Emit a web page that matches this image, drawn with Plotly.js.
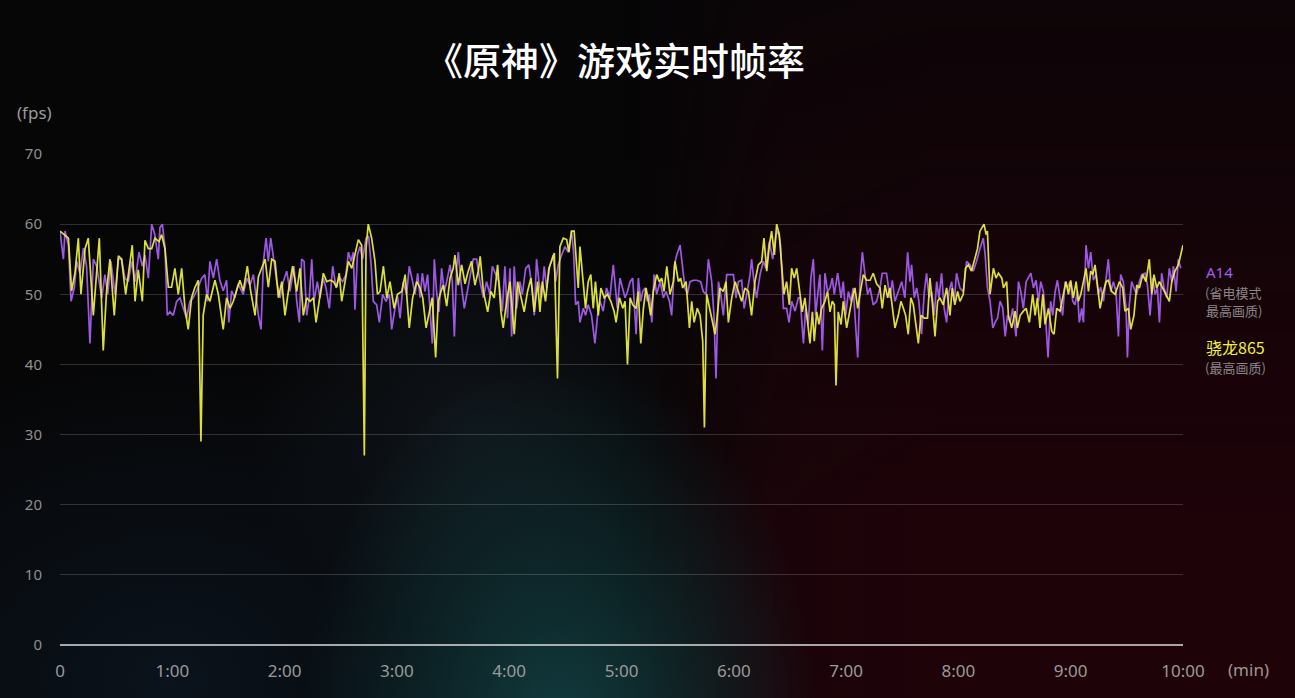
<!DOCTYPE html>
<html>
<head>
<meta charset="utf-8">
<script src="https://cdn.plot.ly/plotly-3.0.1.min.js"></script>
<style>
  html, body { margin: 0; padding: 0; width: 1295px; height: 698px; overflow: hidden; background: #060607; }
  .layer { position: absolute; left: 0; top: 0; width: 1295px; height: 698px; }
  #bgNavy { background: radial-gradient(ellipse 420px 330px at 170px 680px, rgba(11,20,30,0.9), rgba(11,20,30,0) 100%); }
  #bgRed {
    background: linear-gradient(to right, rgba(28,3,8,0) 48%, rgba(30,4,10,0.85) 60%, rgba(30,3,9,1) 72%, rgba(30,3,9,1) 100%);
    -webkit-mask-image: linear-gradient(to bottom, rgba(0,0,0,0.3) 0%, rgba(0,0,0,0.6) 35%, rgba(0,0,0,1) 75%);
    mask-image: linear-gradient(to bottom, rgba(0,0,0,0.3) 0%, rgba(0,0,0,0.6) 35%, rgba(0,0,0,1) 75%);
  }
  #bgTeal { background: radial-gradient(ellipse 260px 370px at 560px 730px, rgba(18,60,63,1), rgba(18,60,63,0) 100%); }
  #bgSlate { background: radial-gradient(ellipse 220px 210px at 470px 430px, rgba(24,34,44,0.5), rgba(24,34,44,0) 100%); }
  #chart { position: absolute; left: 0; top: 0; width: 1295px; height: 698px; }
</style>
</head>
<body>
<div class="layer" id="bgNavy"></div>
<div class="layer" id="bgRed"></div>
<div class="layer" id="bgSlate"></div>
<div class="layer" id="bgTeal"></div>
<div id="chart"></div>
<script>
// ---- data (time in seconds, frame rate in fps) ----
const xTickVals = [0, 60, 120, 180, 240, 300, 360, 420, 480, 540, 600];
const xTickText = ['0', '1:00', '2:00', '3:00', '4:00', '5:00', '6:00', '7:00', '8:00', '9:00', '10:00'];
const yTickVals = [0, 10, 20, 30, 40, 50, 60, 70];

// A14 (省电模式 最高画质) — [seconds, fps]
const a14 = [
[0,59],[1.8,55],[2.7,59],[4.5,57],[5.9,49],[7.7,51],[8.9,54.7],[10.7,53],[12.5,56.6],[14.2,54],[16,43],[17.8,55],[19.6,54],[22.3,49.5],[24,52.8],[25.5,50],[27.2,54.7],[29.4,50],[31.2,55],[32.9,55],[34.7,52.3],[36.5,51.8],[38.3,54.7],[40.1,51.8],[42.2,56],[44,54],[45.4,55.6],[47.2,52.3],[49,60],[50.7,58.5],[52.5,55],[53.4,59.5],[54.7,60],[56.1,56.6],[57.3,47],[58.7,47.5],[60.5,47],[62.3,49],[64.1,49.5],[65.8,48],[67.6,46.6],[69.4,49],[71.2,49.5],[73,50.5],[75.7,52.3],[77.4,52.8],[78.8,49],[80.1,54.7],[81.9,52.3],[83.7,55],[85.4,52],[87.2,50.5],[89,52],[90.2,46],[91.7,50.5],[93.4,49.5],[95.2,51.5],[97.9,50],
[99.8,52.3],[101.5,51.3],[103.3,52.8],[105.1,49],[106,47],[107.4,45],[108.7,54.7],[110.1,58],[111.3,54.7],[112.6,58],[114,55],[115.8,51.8],[117.6,49.5],[119.3,51.8],[121.1,53.3],[122.9,50.4],[125,54],[126.5,49],[127.9,46],[129.1,55],[130.4,54.7],[131.8,47],[133.2,49.5],[134.5,55],[135.7,49],[137.5,51.8],[138.9,49.5],[140.7,52.3],[142.1,50.9],[143.9,48],[145.7,54],[147.5,50.9],[149.2,52.5],[151,51.8],[152.8,52.8],[154.1,56],[155.5,54.7],[156.7,56],[157.6,47.8],[158.9,55.6],[160.3,56.8],[161.7,55],[163.5,58],[164.9,58.3],[166.2,54.3],[167.4,49],[169.2,48.5],[170.6,46],[172.4,50],[174.2,49],[176,50],[177.2,45],[179,48],[180.3,49.7],[181.7,46.6],[183.4,51.8],[185.2,50],[186.6,54],[188.4,51.8],[189.7,50],[191.1,53],[192.4,49.5],[193.6,53],[195,50.4],[196.4,52.8],
[197.7,47],[198.9,43],[200,55],[201.2,50.4],[202.5,47.5],[203.9,53.7],[205.3,50.4],[206.6,51.8],[208.4,54.2],[209.6,51.8],[210.7,44],[211.9,53.7],[212.8,56],[214.2,51.8],[216,48],[217.8,50.9],[219.6,53.3],[220.8,55],[222.6,55],[224.4,51.8],[226.2,49.5],[227.9,51.8],[229.7,50],[231,54],[232.7,52.8],[234.5,51.8],[236.3,47.6],[237.7,54],[239.1,46.6],[240.4,53.7],[241.3,44],[242.7,54],[244,48],[245.7,51.8],[247,50],[248.8,53.7],[250.5,54.2],[252.3,50.9],[253.4,47],[254.6,55],[255.9,51.8],[257.3,49.5],[258.7,54],[260,50.9],[261.8,54.2],[263.5,55.6],[264.8,51.8],[266.2,54.2],[268,55.6],[269.8,56.8],[271.5,56],[273.3,59],[274.4,56],[275.5,48.5],[276.9,49],[277.8,46],[279.6,48],[280.8,47],[282.2,48.5],[284,47],[285.8,43],[287.2,47],[288.5,49],[290.2,47.6],[292,50.9],[293.8,49.5],[295.6,54.2],
[296.6,51.8],[297.8,48],[299.2,52.3],[300.7,50.9],[301.9,49.5],[303.2,50.4],[304.6,51.8],[306,52.3],[307.8,44.3],[309,52.3],[310.3,49],[311.3,50.4],[312.6,50.9],[313.8,49],[314.9,50],[316.2,46],[317.4,52.8],[318.8,50],[320.6,51.8],[322.4,49.5],[323.8,50.4],[325.6,49],[326.8,47],[328.3,54.2],[329.5,55.6],[331.3,57],[332.7,53.7],[333.9,50.9],[335.2,50],[336.6,51.8],[338.4,52],[340.2,52],[342.3,51.8],[343.7,50.4],[345.2,50],[346.4,55],[348.2,51.8],[349.4,47],[350.5,38],[351.8,51.8],[353,50],[354.4,47],[356.2,52.8],[358,52.8],[359.8,52.8],[361.2,49.5],[362.4,51.8],[364.2,52],[365.5,48],[366.9,50],[368.7,52.8],[369.5,55],[370.8,51.8],[372.2,49.5],[374,52.8],[375.8,54.7],[377.2,53.7],[379,57.5],[380.8,55],[382.5,58.5],[383.8,59],[385,57],[386.5,48],[388.2,48],[389.5,46],[390.9,49],[392.7,47.6],[394.5,49.5],
[395.4,49.5],[397.2,43],[398.4,48],[399.8,45.7],[401.2,52.3],[402.5,55],[403.7,47],[405.2,50.9],[406,52.8],[407.3,42],[408.7,53],[410.1,50.4],[411.4,50.9],[412.6,52.3],[413.7,50],[415.5,53],[417.3,49.5],[418.5,51.8],[419.8,47],[421.2,50.4],[422.6,49],[423.8,50.9],[425.1,45.7],[426.2,41],[427.4,51.8],[428.7,56],[430.1,52.8],[431.5,50],[432.8,50.9],[434.5,48.5],[436.3,49],[438.1,50.9],[439.3,53],[441.6,53],[443.4,49.5],[444.7,52],[446.1,49],[447.9,50.4],[449.7,51.8],[451.4,49.5],[452.9,56],[454.1,51.8],[455,54.2],[456.4,49.5],[457.7,50.9],[458.9,49],[460.3,44.3],[461.8,50.4],[463,53],[464.3,49.5],[465.7,50.4],[467.1,47],[468.4,51.8],[469.6,49.5],[471,53],[472.4,48],[473.7,46],[475,50.4],[476.4,51.8],[477.8,49],[479,53],[480.8,50.9],[482.6,50.4],[484.4,54.7],[486.2,54.2],[487.9,53.3],[489.7,54.7],[491.5,56.5],[493.3,58],
[494.3,55.6],[495.5,51],[496.9,49],[498.4,45.2],[499.6,46],[500.9,46.6],[502.3,49],[503.7,48],[505,44],[506.2,47],[507.6,46],[509,48],[510.8,44],[512.1,51.8],[513.3,50.4],[514.7,48],[516.2,51.8],[517.4,52.3],[518.7,53],[520.1,50.9],[521.5,52],[522.8,49],[524,51.8],[525.4,50.4],[526.5,47],[527.9,41],[529.3,49],[530.4,47],[531.7,50.4],[532.9,52],[534.3,49.5],[535.7,47],[537,51.8],[538.2,50.9],[539.7,51.8],[541.1,49],[542.3,48.5],[543.6,50.4],[544.6,46],[545.9,48],[546.8,46],[548.2,57],[549.5,53.7],[550.7,56],[552.1,52],[553.5,52.8],[554.8,50],[556,51],[557.5,49],[558.9,51.8],[560.1,55],[561.4,50.4],[562.8,51.8],[564.2,50.4],[565.5,44],[566.7,52.8],[568.1,51.8],[569.6,48],[570.3,41],[571.3,48.5],[572.6,51.8],[573.8,50.9],[575.3,50],[576.7,51.8],[577.9,52.8],[579.7,53],[581,51.3],[582.4,47],[583.8,52.3],[585.1,50],[586.3,50.9],[587.4,46],[588.6,53],[589.9,50.9],[591.3,49.5],[592.7,53.7],[594,51.8],[594.9,54],[596.3,50.4],[597.5,55],[598.8,53.7]
];

// 骁龙865 (最高画质) — [seconds, fps]
const sd865 = [
[0,59],[4.5,58],[6.2,50.5],[8,53],[9.8,58],[11.2,50],[13.4,56.5],[15.1,58],[17.8,47],[19.6,54],[21,58],[23.1,42],[24.9,50.5],[26.7,55],[29,47],[31.2,55.5],[32.9,55],[35.1,50],[36.8,53.5],[38.6,57],[40.1,49],[41.8,53.5],[44,49],[45.4,57.7],[47.2,56.5],[49,56.5],[50.7,58],[52.9,57.5],[54.3,58.5],[56.1,56.5],[57.9,51],[59.6,51],[61.4,53.7],[63.2,50],[65,53.7],[66.8,48],[68.5,45],[70.3,49.5],[72.1,51],[73.9,52],[75.3,29],[76.5,47],[78.3,50],[80.1,49],[82.8,52],[84.6,50],[87.2,45],[89,49.5],[90.8,48],[92.6,49],[94.3,50.5],[96.1,52],[97.9,50.5],
[100.1,54],[101.9,50.4],[104.2,47],[106,52.5],[107.8,53.7],[109.6,55],[111.3,51],[113.1,55],[114.9,54.7],[116.7,49.5],[118.5,51.8],[120.2,47],[122,50.4],[124.3,54],[126.5,50.4],[128.2,53.7],[130,47],[131.8,49.5],[133.6,49],[135.4,49.5],[136.8,46],[138.6,49],[140.7,53],[142.5,51.8],[144.3,52],[146.1,51.8],[147.8,51],[149.2,53],[150.5,49],[152.3,51.8],[154.1,54.7],[155.9,53.7],[157.6,55.6],[159.4,57.8],[161.2,57],[162.6,27],[163.5,56.5],[164.7,60],[166.5,58],[168.3,54.7],[169.6,50],[171,50.4],[172.8,54],[174.6,49.5],[176.3,51.8],[178.5,48],[180.3,50],[182.6,50.4],[184.4,52.8],[186.6,45.2],[188.4,49.5],[190.6,51.8],[192.4,50.9],[193.8,49.5],[195.6,45.2],[197.4,47.5],
[198.9,49.5],[200.7,41],[202.1,49],[203.5,50.4],[204.8,51.3],[206.6,48.3],[208.4,52.3],[210.1,53.7],[211,55.6],[212.8,51.3],[214.6,54.2],[216.4,51.5],[218.1,53.3],[219.9,54.7],[221.7,51.3],[223.5,53.3],[224.5,55.4],[226.2,50.4],[228.5,47.5],[230.2,50.4],[232,49.5],[233.8,54.2],[235.6,47.5],[236.8,45.2],[238.6,49],[240.4,51.8],[242.7,44.3],[244.5,51.8],[246.3,49.5],[248,47.5],[249.8,50.4],[251.6,52.3],[253.4,47.5],[255.2,51.8],[256.4,47.5],[257.7,51.8],[259.4,49],[261.2,53.7],[262.6,54.7],[264.1,55.9],[265.8,38],[267.1,56.8],[268.9,58],[270.7,57.8],[271.9,56],[273.3,59],[274.7,59],[276,54.7],[276.9,50.9],[277.8,56.8],[279.6,50.9],[280.8,48],[282.2,51.8],[283.6,52.8],[284.9,48],[286.1,51.8],[287.6,47],[289,50.9],[290.8,49.5],[292.5,50],[294.3,49],[296.1,47.5],
[297.1,46],[298.9,49.5],[300.7,48],[301.9,49],[303.2,40],[304.6,49.5],[306,48.5],[307.8,48],[309,50.4],[310.3,43],[311.7,48],[313.1,50.9],[314.4,49],[315.6,47],[317,50.4],[318.8,52.8],[320.2,51.8],[321.5,52.3],[322.7,50.4],[324.2,54],[325.9,50],[327.7,51.8],[328.6,54.7],[330.4,51.8],[331.6,52.3],[332.7,50.9],[334.5,51.8],[336.3,45.2],[337.5,49],[338.8,46],[340.5,48],[342,47],[343.4,43.3],[344.3,31],[345.5,50],[347,48],[348.2,46.6],[350,44.3],[351.2,47],[352.6,50.9],[354.4,50.4],[355.8,51.8],[357.1,46],[358.9,49.5],[360.7,51.8],[362.4,50.4],[364.2,49],[366,50.9],[367.8,50.4],[369.5,47],[371.3,51.8],[373.1,54.2],[374.9,54.7],[376.1,58],[377.6,53.3],[379,57],[380.2,59],[381.7,55.6],[382.9,60],[384.3,58.5],[385.6,54.2],[386.8,50],[388.2,51.8],[389.7,48.5],[390.9,53.7],[392.3,52.3],[393.6,53.7],[395,50.9],
[396.6,47.5],[398,49.5],[399.5,45.7],[400.7,43],[402,47.5],[403,43.3],[404.3,47.5],[405.5,45.7],[406.9,48],[408.7,49],[410.1,50.4],[411.4,47.5],[412.6,49],[413.7,48.5],[414.6,37],[415.8,47.5],[417.3,45.7],[418.5,49],[420.3,45.2],[422.1,48],[423.3,49.5],[424.7,50.9],[426.2,48],[427.4,50],[429.2,52.8],[431,52],[432.8,52],[434.5,53],[436.3,51.5],[438.1,50.9],[439.3,48],[440.8,51.3],[442.2,49.5],[443.4,50.9],[444.7,48],[446.1,45.2],[447.9,47],[449.3,49],[450.6,48],[451.8,47],[453.2,44.3],[454.6,49.5],[455.9,48.5],[457.1,45.7],[458.6,43],[460,47],[461.8,46.6],[463.5,46.6],[464.8,52.3],[466,49],[467.5,44],[468.9,49],[470.1,49.5],[471.9,48.5],[473.7,50.9],[475.5,47],[476.7,50.9],[478.1,48.5],[479.6,50.4],[480.8,49],[482.6,50],[483.8,53.7],[485.3,54.2],[487,53.3],[488.8,55],[490.2,56.5],[491.5,59],
[493.7,60],[494.8,58.5],[495.5,59],[496.9,50],[498.7,53.7],[500.1,52.3],[501.4,53],[503.2,52.3],[504.1,50.9],[505.8,51.8],[506.7,47],[508.5,45.2],[510.3,47.6],[511.5,45.2],[513,47],[514.7,47.6],[516.2,48],[517.9,46],[519.7,50],[521,47],[522.2,49.5],[523.6,45.2],[525.1,50],[526.3,45.7],[528.1,48],[529.9,44.7],[531.1,44.3],[532.5,48],[534.3,47.6],[535.7,49.5],[537.5,51.8],[538.8,50],[540,52],[541.4,49.5],[542.9,51.8],[544.1,49],[545.4,50],[546.8,51.8],[548.2,53.7],[549.5,50.4],[550.7,53.3],[551.8,52.8],[553,54.2],[554.3,51.3],[555.7,48],[557.1,50],[558.9,51.8],[560.1,52],[561.9,50.4],[563.7,50],[566,51.8],[567.8,50.9],[569,47.6],[570.8,48],[572.1,45],[573.8,47],[575.3,51.3],[576.7,50.9],[578.5,52.8],[580.2,51.8],[582,55],[583.3,50],[584.5,52.8],[586,50.9],[587.4,51.8],[589.1,50.9],[590.9,50],[592.7,49],[594,51.8],[595.7,53.3],[597.5,54.2],[600,57]
];

// ---- layout helpers (pixel -> paper) ----
const M = {l: 60, r: 112, t: 154, b: 53};
const W = 1295, H = 698;
const PW = W - M.l - M.r, PH = H - M.t - M.b;
const px = x => (x - M.l) / PW;
const py = y => (H - M.b - y) / PH;

const FONT = '"Noto Sans", "Noto Sans CJK SC", sans-serif';
const CJK = '"Noto Sans CJK SC", "Noto Sans", sans-serif';

const traces = [
  {
    x: a14.map(d => d[0]), y: a14.map(d => d[1]),
    type: 'scatter', mode: 'lines', name: 'A14',
    line: {color: '#a55df0', width: 1.7}, opacity: 0.95
  },
  {
    x: sd865.map(d => d[0]), y: sd865.map(d => d[1]),
    type: 'scatter', mode: 'lines', name: '骁龙865',
    line: {color: '#eef23e', width: 1.7}, opacity: 0.92
  }
];

const ann = (text, x, y, opts) => Object.assign({
  text, x: px(x), y: py(y), xref: 'paper', yref: 'paper',
  showarrow: false, xanchor: 'center', yanchor: 'middle', borderpad: 0
}, opts);

const layout = {
  width: W, height: H,
  margin: M,
  paper_bgcolor: 'rgba(0,0,0,0)',
  plot_bgcolor: 'rgba(0,0,0,0)',
  showlegend: false,
  hovermode: false,
  xaxis: {
    range: [0, 600], tickvals: xTickVals, ticktext: xTickText,
    showgrid: false, zeroline: false, showline: false,
    ticks: 'outside', ticklen: 11, tickcolor: 'rgba(0,0,0,0)',
    tickfont: {family: FONT, size: 17, color: '#9a9a9a'}
  },
  yaxis: {
    range: [0, 70], tickvals: yTickVals,
    showgrid: true, gridcolor: 'rgba(255,255,255,0.17)', gridwidth: 1,
    zeroline: true, zerolinecolor: 'rgba(220,220,220,0.75)', zerolinewidth: 1.5,
    showline: false,
    ticks: 'outside', ticklen: 14, tickcolor: 'rgba(0,0,0,0)',
    tickfont: {family: FONT, size: 15, color: '#8f8f8f'}
  },
  annotations: [
    ann('《原神》游戏实时帧率', 615, 58, {font: {family: CJK, size: 38, color: '#ffffff', weight: 500}}),
    ann('(fps)', 34, 113, {font: {family: FONT, size: 17, color: '#9a9a9a'}}),
    ann('(min)', 1248, 669, {font: {family: FONT, size: 17, color: '#a09494'}}),
    ann('A14', 1205, 272, {xanchor: 'left', font: {family: FONT, size: 15, color: '#a55df0'}}),
    ann('(省电模式', 1204, 292, {xanchor: 'left', font: {family: CJK, size: 13, color: '#8c8588'}}),
    ann('最高画质)', 1205, 310, {xanchor: 'left', font: {family: CJK, size: 13, color: '#8c8588'}}),
    ann('骁龙865', 1205, 347, {xanchor: 'left', font: {family: CJK, size: 16, color: '#eef23e'}}),
    ann('(最高画质)', 1204, 367, {xanchor: 'left', font: {family: CJK, size: 13, color: '#8c8588'}})
  ]
};

Plotly.newPlot('chart', traces, layout, {staticPlot: true, displayModeBar: false});
</script>
</body>
</html>
